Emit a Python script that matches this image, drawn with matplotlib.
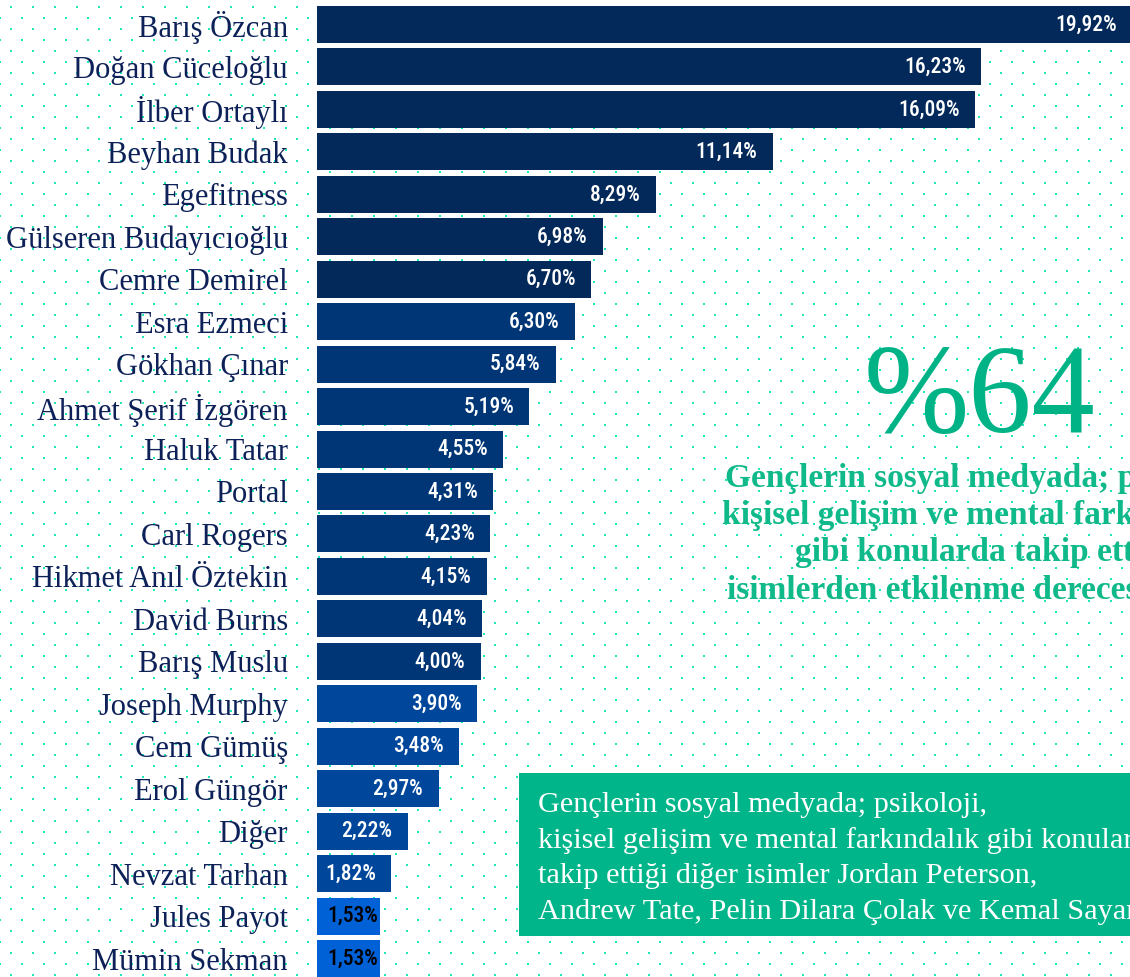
import numpy as np
import matplotlib
matplotlib.use("Agg")
import matplotlib.pyplot as plt
from matplotlib import font_manager as fm
from matplotlib.patches import Rectangle
from matplotlib.textpath import TextPath

names = ["Barış Özcan", "Doğan Cüceloğlu", "İlber Ortaylı", "Beyhan Budak", "Egefitness",
         "Gülseren Budayıcıoğlu", "Cemre Demirel", "Esra Ezmeci", "Gökhan Çınar",
         "Ahmet Şerif İzgören", "Haluk Tatar", "Portal", "Carl Rogers", "Hikmet Anıl Öztekin",
         "David Burns", "Barış Muslu", "Joseph Murphy", "Cem Gümüş", "Erol Güngör", "Diğer",
         "Nevzat Tarhan", "Jules Payot", "Mümin Sekman"]
values = [19.92, 16.23, 16.09, 11.14, 8.29, 6.98, 6.70, 6.30, 5.84, 5.19, 4.55, 4.31, 4.23,
          4.15, 4.04, 4.00, 3.90, 3.48, 2.97, 2.22, 1.82, 1.53, 1.53]
bar_colors = ["#03295a"] * 7 + ["#003676"] * 9 + ["#00479c"] * 5 + ["#0060d6"] * 2
label_colors = ["white"] * 21 + ["black"] * 2

big_number = "%64"
headline_lines = ["Gençlerin sosyal medyada; psikoloji,",
                  "kişisel gelişim ve mental farkındalık",
                  "gibi konularda takip ettiği",
                  "isimlerden etkilenme derecesi"]
note_lines = ["Gençlerin sosyal medyada; psikoloji,",
              "kişisel gelişim ve mental farkındalık gibi konularda",
              "takip ettiği diğer isimler Jordan Peterson,",
              "Andrew Tate, Pelin Dilara Çolak ve Kemal Sayar."]

W, H = 1130, 977


def find_font(candidates, weight_pref=400):
    fl = fm.fontManager.ttflist
    for fam, stretches in candidates:
        hits = [f for f in fl if f.name == fam and f.style == "normal"
                and (stretches is None or f.stretch in stretches)]
        if hits:
            hits.sort(key=lambda f: abs((f.weight if isinstance(f.weight, int) else 400)
                                        - weight_pref))
            return fm.FontProperties(fname=hits[0].fname)
    return fm.FontProperties(family="DejaVu Sans")


cond = {"condensed", "semi-condensed", "extra-condensed", "ultra-condensed"}
narrow_fp = find_font([("Liberation Sans Narrow", None), ("Roboto Condensed", None),
                       ("Open Sans Condensed", None), ("DejaVu Sans", cond),
                       ("Roboto", cond), ("Open Sans", cond), ("Noto Sans", cond),
                       ("DejaVu Sans", None)], weight_pref=520)
serif_fp = find_font([("Liberation Serif", None), ("DejaVu Serif", None)])
serif_b_fp = find_font([("Liberation Serif", None), ("DejaVu Serif", None)], weight_pref=700)

tp = TextPath((0, 0), "19,92%", size=10, prop=narrow_fp)
w10 = tp.get_extents().width
label_size = min(16.5, 10 * 59 / (w10 * 100 / 72))

fig = plt.figure(figsize=(W / 100, H / 100), dpi=100)
fig.patch.set_facecolor("white")

# background dot pattern
bg = fig.add_axes([0, 0, 1, 1], zorder=0)
bg.set_xlim(0, W)
bg.set_ylim(H, 0)
bg.axis("off")
xs, ys = [], []
for r, y in enumerate(np.arange(7, H + 11, 11)):
    x0 = 11 if r % 2 == 0 else 22
    xr = np.arange(x0 - 22, W + 22, 22).astype(float)
    xs.append(xr)
    ys.append(np.full_like(xr, y))
bg.scatter(np.concatenate(xs), np.concatenate(ys), s=(2.6 * 0.72) ** 2, marker="s",
           color="#1de9b6", linewidths=0)

# main bar chart
pitch = (958.5 - 24.5) / 22
top_px = 24.5 - pitch / 2
bot_px = 958.5 + pitch / 2
x_left = 317
px_per_unit = (981 - 317) / 16.23
ax = fig.add_axes([x_left / W, (H - bot_px) / H, 20 * px_per_unit / W, (bot_px - top_px) / H],
                  zorder=1)
ax.set_facecolor("none")
ypos = np.arange(len(names))
ax.barh(ypos, values, height=0.87, color=bar_colors, zorder=2)
ax.set_xlim(0, 20)
ax.set_ylim(len(names) - 0.5, -0.5)
ax.set_yticks(ypos)
ax.set_yticklabels(names)
for t in ax.get_yticklabels():
    t.set_fontproperties(serif_fp)
    t.set_fontsize(22)
    t.set_color("#0d2158")
ax.tick_params(axis="y", length=0, pad=21)
ax.set_xticks([])
for s in ax.spines.values():
    s.set_visible(False)
for y, v, c in zip(ypos, values, label_colors):
    pad = -11 if c == "white" else -1
    ax.annotate(f"{v:.2f}%".replace(".", ","), (v, y), xytext=(pad, 0),
                textcoords="offset points", ha="right", va="center",
                fontproperties=narrow_fp, fontsize=label_size, color=c, zorder=3)

# overlay texts
ov = fig.add_axes([0, 0, 1, 1], zorder=3)
ov.set_facecolor("none")
ov.set_xlim(0, W)
ov.set_ylim(H, 0)
ov.axis("off")
ov.text(979, 432, big_number, fontproperties=serif_fp, fontsize=91, color="#00b386",
        ha="center", va="baseline")
line_x = [725, 722, 795, 727]
for i, (txt, lx) in enumerate(zip(headline_lines, line_x)):
    ov.text(lx, 478 + i * 37.5, txt, fontproperties=serif_b_fp, fontsize=24,
            color="#10b98a", ha="left", va="center")
ov.add_patch(Rectangle((519, 773), 700, 163, facecolor="#00b589", edgecolor="none"))
for i, txt in enumerate(note_lines):
    ov.text(538, 805 + i * 35.7, txt, fontproperties=serif_fp, fontsize=21.8,
            color="white", ha="left", va="center")

fig.savefig("out.png", dpi=100, facecolor="white")
